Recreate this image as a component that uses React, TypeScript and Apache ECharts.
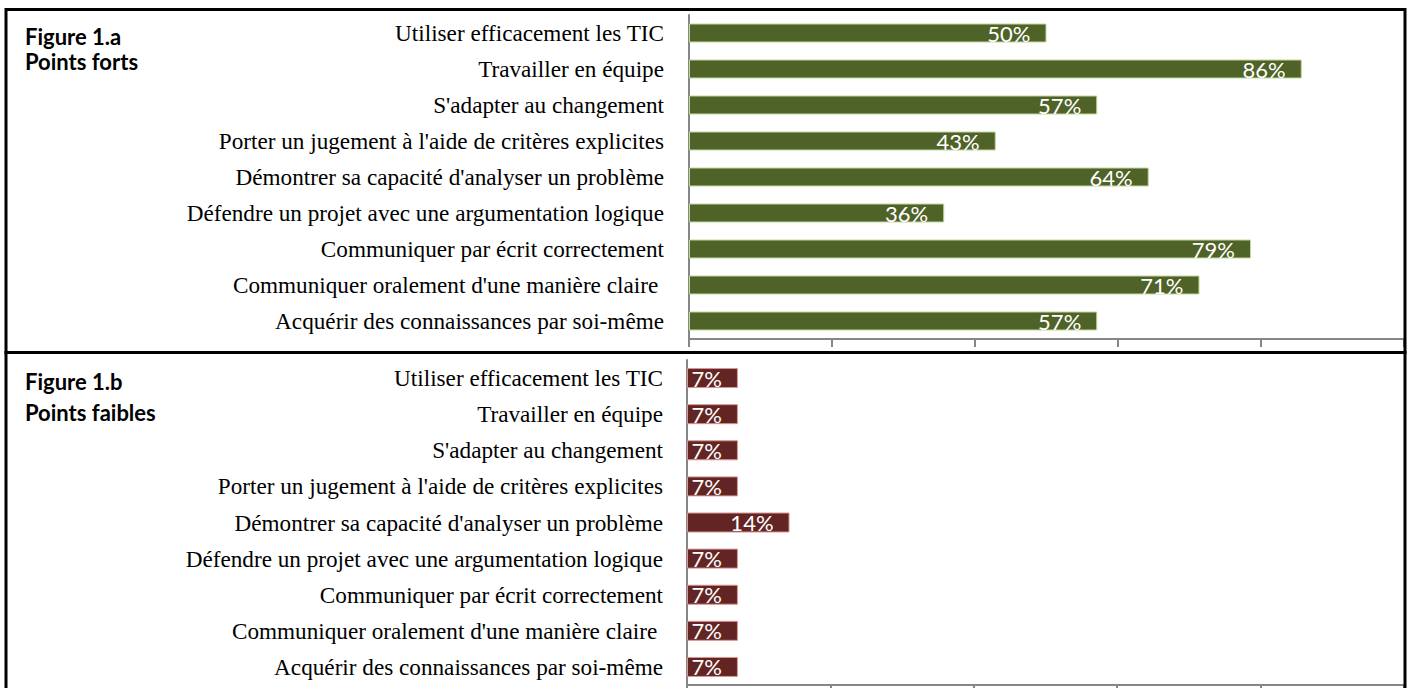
import React, { useEffect, useRef } from "react";
import * as echarts from "echarts";

const categories = [
  "Utiliser efficacement les TIC",
  "Travailler en équipe",
  "S'adapter au changement",
  "Porter un jugement à l'aide de critères explicites",
  "Démontrer sa capacité d'analyser un problème",
  "Défendre un projet avec une argumentation logique",
  "Communiquer par écrit correctement",
  "Communiquer oralement d'une manière claire ",
  "Acquérir des connaissances par soi-même",
];

const strengths = [50, 85.7, 57.1, 42.9, 64.3, 35.7, 78.6, 71.4, 57.1];
const weaknesses = [7.1, 7.1, 7.1, 7.1, 14.3, 7.1, 7.1, 7.1, 7.1];

const titleA = ["Figure 1.a", "Points forts"];
const titleB = ["Figure 1.b", "Points faibles"];

const axisColor = "#868686";

function makeXAxis(gridIndex: number) {
  return {
    gridIndex,
    type: "value",
    min: 0,
    max: 100,
    interval: 20,
    position: "bottom",
    axisLine: { show: true, lineStyle: { color: axisColor, width: 2 } },
    axisTick: { show: true, length: 8, lineStyle: { color: axisColor, width: 2 } },
    axisLabel: { show: false },
    splitLine: { show: false },
  };
}

function makeYAxis(gridIndex: number, margin: number) {
  return {
    gridIndex,
    type: "category",
    data: categories,
    inverse: true,
    axisLine: { show: true, lineStyle: { color: axisColor, width: 2 } },
    axisTick: { show: false },
    axisLabel: {
      fontFamily: "Liberation Serif",
      fontSize: 23.2,
      color: "#000",
      margin,
    },
    splitLine: { show: false },
  };
}

function makeSeries(idx: number, data: number[], color: string, border: string, width: number) {
  return {
    type: "bar",
    xAxisIndex: idx,
    yAxisIndex: idx,
    data,
    barWidth: width,
    itemStyle: { color, borderColor: border, borderWidth: 1 },
    label: {
      show: true,
      position: "insideRight",
      distance: 16,
      color: "#fff",
      fontFamily: "Lato",
      fontSize: 22,
      formatter: (p: any) => Math.round(p.value) + "%",
    },
  };
}

export default function App() {
  const ref = useRef<HTMLDivElement>(null);
  useEffect(() => {
    if (!ref.current) return;
    const chart = echarts.init(ref.current, undefined, { renderer: "svg" });
    const titleStyle = (text: string) => ({
      text,
      fontFamily: "Lato",
      fontWeight: "bold",
      fontSize: 22,
      fill: "#000",
      verticalAlign: "middle",
      align: "left",
    });
    chart.setOption({
      animation: false,
      backgroundColor: "#fff",
      grid: [
        { left: 689, top: 15, width: 715, height: 324 },
        { left: 687, top: 360, width: 717, height: 325 },
      ],
      xAxis: [makeXAxis(0), makeXAxis(1)],
      yAxis: [makeYAxis(0, 25), makeYAxis(1, 24)],
      series: [
        makeSeries(0, strengths, "#4F6228", "#c4d79b", 19),
        makeSeries(1, weaknesses, "#632523", "#d99694", 20),
      ],
      graphic: [
        {
          type: "rect",
          shape: { x: 6, y: 9.5, width: 1399, height: 343 },
          style: { fill: "none", stroke: "#000", lineWidth: 3 },
          z: 10,
        },
        {
          type: "rect",
          shape: { x: 6, y: 352.5, width: 1399, height: 400 },
          style: { fill: "none", stroke: "#000", lineWidth: 3 },
          z: 10,
        },
        { type: "text", x: 25, y: 36, style: titleStyle(titleA[0]) },
        { type: "text", x: 25, y: 61, style: titleStyle(titleA[1]) },
        { type: "text", x: 25, y: 381, style: titleStyle(titleB[0]) },
        { type: "text", x: 25, y: 412, style: titleStyle(titleB[1]) },
      ],
    });
    return () => chart.dispose();
  }, []);
  return (
    <div
      ref={ref}
      style={{ position: "fixed", left: 0, top: 0, width: 1410, height: 688 }}
    />
  );
}
